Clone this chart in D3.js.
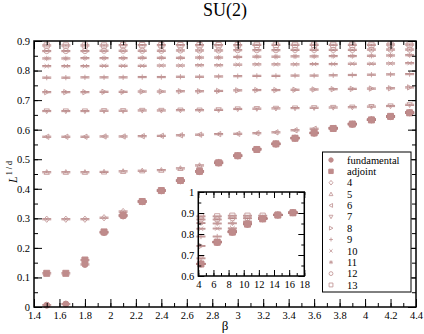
<!DOCTYPE html>
<html>
<head>
<meta charset="utf-8">
<script src="https://cdn.jsdelivr.net/npm/d3@7"></script>
<style>
  body { margin: 0; background: #fff; }
  svg { display: block; }
  text { font-family: "Liberation Serif", "Times New Roman", serif; }
</style>
</head>
<body>
<div id="chart"></div>
<script>
// ------ DATA ------

const betas = [1.5, 1.65, 1.8, 1.95, 2.1, 2.25, 2.4, 2.55, 2.7, 2.85,
               3.0, 3.15, 3.3, 3.45, 3.6, 3.75, 3.9, 4.05, 4.2, 4.35];

const fundamental = [0.006, 0.010, 0.144, 0.252, 0.308, 0.356, 0.393, 0.427, 0.458, 0.487, 0.511, 0.533, 0.551, 0.571, 0.588, 0.604, 0.618, 0.633, 0.644, 0.657];
const adjoint     = [0.114, 0.114, 0.159, 0.254, 0.311, 0.357, 0.394, 0.428, 0.459, 0.488, 0.512, 0.533, 0.552, 0.571, 0.589, 0.604, 0.619, 0.633, 0.645, 0.657];
const rep4  = [0.297, 0.297, 0.297, 0.302, 0.323, 0.358, 0.395, 0.428, 0.459, 0.488, 0.512, 0.534, 0.552, 0.572, 0.589, 0.605, 0.619, 0.634, 0.645, 0.658];
const rep5  = [0.456, 0.456, 0.456, 0.457, 0.459, 0.461, 0.463, 0.469, 0.479, 0.492, 0.513, 0.535, 0.553, 0.572, 0.589, 0.605, 0.619, 0.634, 0.645, 0.658];
const rep6  = [0.576, 0.576, 0.576, 0.577, 0.577, 0.578, 0.579, 0.581, 0.583, 0.585, 0.586, 0.588, 0.591, 0.598, 0.603, 0.606, 0.620, 0.634, 0.645, 0.658];
const rep7  = [0.663, 0.663, 0.663, 0.664, 0.664, 0.665, 0.665, 0.666, 0.666, 0.667, 0.670, 0.671, 0.672, 0.673, 0.674, 0.675, 0.676, 0.678, 0.680, 0.684];
const rep8  = [0.727, 0.727, 0.727, 0.728, 0.728, 0.729, 0.729, 0.730, 0.730, 0.731, 0.733, 0.734, 0.734, 0.735, 0.736, 0.737, 0.738, 0.739, 0.740, 0.743];
const rep9  = [0.776, 0.776, 0.777, 0.777, 0.777, 0.778, 0.778, 0.779, 0.779, 0.780, 0.781, 0.782, 0.782, 0.783, 0.783, 0.784, 0.785, 0.786, 0.787, 0.788];
const rep10 = [0.815, 0.815, 0.815, 0.816, 0.816, 0.816, 0.817, 0.817, 0.818, 0.818, 0.820, 0.821, 0.821, 0.821, 0.822, 0.822, 0.823, 0.823, 0.824, 0.825];
const rep11 = [0.841, 0.841, 0.842, 0.842, 0.842, 0.843, 0.843, 0.843, 0.844, 0.844, 0.846, 0.847, 0.847, 0.848, 0.848, 0.849, 0.849, 0.850, 0.851, 0.852];
const rep12 = [0.866, 0.866, 0.866, 0.867, 0.867, 0.867, 0.867, 0.868, 0.868, 0.868, 0.869, 0.869, 0.869, 0.870, 0.870, 0.870, 0.870, 0.871, 0.871, 0.871];
const rep13 = [0.885, 0.885, 0.885, 0.885, 0.886, 0.886, 0.886, 0.886, 0.886, 0.886, 0.886, 0.887, 0.887, 0.887, 0.887, 0.887, 0.887, 0.887, 0.888, 0.888];

// inset: larger beta
const insetBetas = [4.35, 6.5, 8.5, 10.5, 12.5, 14.5, 16.5];
const insetFundamental = [0.657, 0.760, 0.808, 0.846, 0.872, 0.890, 0.901];
const insetAdjoint     = [0.657, 0.761, 0.809, 0.847, 0.872, 0.890, 0.901];
const insetRep4  = [0.658, 0.761, 0.810, 0.847, 0.873, 0.890, 0.901];
const insetRep5  = [0.658, 0.761, 0.810, 0.848, 0.873, 0.890, 0.901];
const insetRep6  = [0.658, 0.762, 0.810, 0.848, 0.873, 0.890, 0.901];
const insetRep7  = [0.684, 0.762, 0.811, 0.848, 0.873, 0.891, 0.901];
const insetRep8  = [0.743, 0.764, 0.812, 0.849, 0.874, 0.891, 0.901];
const insetRep9  = [0.788, 0.788, 0.816, 0.850, 0.874, 0.891, 0.901];
const insetRep10 = [0.825, 0.826, 0.827, 0.851, 0.875, 0.891, 0.902];
const insetRep11 = [0.852, 0.850, 0.851, 0.859, 0.875, 0.891, 0.902];
const insetRep12 = [0.869, 0.869, 0.875, 0.875, 0.877, 0.892, 0.902];
const insetRep13 = [0.884, 0.884, 0.887, 0.887, 0.887, 0.892, 0.902];

const seriesNames   = ["fundamental", "adjoint", "4", "5", "6", "7", "8", "9", "10", "11", "12", "13"];
const seriesSymbols = ["circleF", "squareF", "diamond", "triUp", "triLeft", "triDown", "triRight", "plus", "cross", "star", "circle", "square"];
const mainValues  = [fundamental, adjoint, rep4, rep5, rep6, rep7, rep8, rep9, rep10, rep11, rep12, rep13];
const insetValues = [insetFundamental, insetAdjoint, insetRep4, insetRep5, insetRep6, insetRep7, insetRep8, insetRep9, insetRep10, insetRep11, insetRep12, insetRep13];

const errBar = 0.002;   // error bars are tiny everywhere

// ------ STYLE ------
const W = 424, H = 334;
const MARK = "#c49a9a";
const FILL = "#bf8b8b";
const CAP = "#b48080";
const SERIF = '"Liberation Serif", "Times New Roman", serif';

// ------ SCALES ------
const x = d3.scaleLinear().domain([1.4, 4.4]).range([34, 416]);
const y = d3.scaleLinear().domain([0, 0.9]).range([307, 41]);
const xi = d3.scaleLinear().domain([4, 18]).range([198.3, 304.3]);
const yi = d3.scaleLinear().domain([0.6, 1.0]).range([276, 192]);

const svg = d3.select("#chart").append("svg")
  .attr("width", W).attr("height", H);

// marker glyphs, r = half size
function markerPath(sym, r) {
  switch (sym) {
    case "circle": case "circleF":
      return `M${r},0A${r},${r} 0 1,1 ${-r},0A${r},${r} 0 1,1 ${r},0Z`;
    case "square": case "squareF":
      return `M${-r},${-r}h${2*r}v${2*r}h${-2*r}Z`;
    case "diamond":
      return `M0,${-r*1.2}L${r},0L0,${r*1.2}L${-r},0Z`;
    case "triUp":
      return `M0,${-r}L${r},${r*0.8}L${-r},${r*0.8}Z`;
    case "triDown":
      return `M0,${r}L${r},${-r*0.8}L${-r},${-r*0.8}Z`;
    case "triLeft":
      return `M${-r},0L${r*0.8},${-r}L${r*0.8},${r}Z`;
    case "triRight":
      return `M${r},0L${-r*0.8},${-r}L${-r*0.8},${r}Z`;
    case "plus":
      return `M${-r},0H${r}M0,${-r}V${r}`;
    case "cross":
      return `M${-r*0.8},${-r*0.8}L${r*0.8},${r*0.8}M${-r*0.8},${r*0.8}L${r*0.8},${-r*0.8}`;
    case "star": {
      const d = r * 0.7;
      return `M${-r},0H${r}M0,${-r}V${r}M${-d},${-d}L${d},${d}M${-d},${d}L${d},${-d}`;
    }
  }
}

function drawMarker(g, sym, r) {
  const filled = sym === "circleF" || sym === "squareF";
  g.append("path")
    .attr("d", markerPath(sym, filled ? r : r * 0.88))
    .attr("fill", filled ? FILL : "none")
    .attr("stroke", filled ? FILL : MARK)
    .attr("stroke-width", filled ? 1 : 0.9);
}

// ------ AXES ------
function tickAxes(layer, xs, ys, xMajor, xMinor, yMajor, yMinor, majLen, minLen, fmtX, fmtY) {
  const [x0, x1] = xs.range(), [y0, y1] = ys.range();

  // bottom
  layer.append("g").attr("transform", `translate(0,${y0})`)
    .call(d3.axisBottom(xs).tickValues(xMinor).tickSize(-minLen).tickFormat(""));
  layer.append("g").attr("class", "lab").attr("transform", `translate(0,${y0})`)
    .call(d3.axisBottom(xs).tickValues(xMajor).tickSize(-majLen).tickPadding(5).tickFormat(fmtX));
  // top
  layer.append("g").attr("transform", `translate(0,${y1})`)
    .call(d3.axisTop(xs).tickValues(xMinor).tickSize(-minLen).tickFormat(""));
  layer.append("g").attr("transform", `translate(0,${y1})`)
    .call(d3.axisTop(xs).tickValues(xMajor).tickSize(-majLen).tickFormat(""));
  // left
  layer.append("g").attr("transform", `translate(${x0},0)`)
    .call(d3.axisLeft(ys).tickValues(yMinor).tickSize(-minLen).tickFormat(""));
  layer.append("g").attr("class", "lab").attr("transform", `translate(${x0},0)`)
    .call(d3.axisLeft(ys).tickValues(yMajor).tickSize(-majLen).tickPadding(4).tickFormat(fmtY));
  // right
  layer.append("g").attr("transform", `translate(${x1},0)`)
    .call(d3.axisRight(ys).tickValues(yMinor).tickSize(-minLen).tickFormat(""));
  layer.append("g").attr("transform", `translate(${x1},0)`)
    .call(d3.axisRight(ys).tickValues(yMajor).tickSize(-majLen).tickFormat(""));

  layer.selectAll(".domain").remove();
  layer.selectAll(".tick line").attr("stroke", "#000").attr("stroke-width", 1);
  layer.selectAll("g").attr("font-family", SERIF).attr("font-size", 10.5);
  layer.selectAll(".lab text").attr("fill", "#000");

  layer.append("rect")
    .attr("x", x0).attr("y", y1).attr("width", x1 - x0).attr("height", y0 - y1)
    .attr("fill", "none").attr("stroke", "#000").attr("stroke-width", 1.5);
}

function drawPoints(layer, xs, ys, xvals, valueSets, r) {
  d3.range(seriesNames.length).reverse().forEach(si => {
    valueSets[si].forEach((v, i) => {
      const px = xs(xvals[i]);
      // error bar with caps
      layer.append("path")
        .attr("d", `M${px - 4.5},${ys(v + errBar)}H${px + 4.5}M${px - 4.5},${ys(v - errBar)}H${px + 4.5}M${px},${ys(v + errBar)}V${ys(v - errBar)}`)
        .attr("stroke", CAP).attr("stroke-width", 0.9).attr("fill", "none");
      const g = layer.append("g").attr("transform", `translate(${px},${ys(v)})`);
      drawMarker(g, seriesSymbols[si], r);
    });
  });
}

// ------ MAIN PLOT ------
const fmt = d3.format("~g");
const pointsLayer = svg.append("g");
drawPoints(pointsLayer, x, y, betas, mainValues, 3);

const mainLayer = svg.append("g");
tickAxes(mainLayer, x, y,
  d3.range(0, 16).map(i => 1.4 + i * 0.2),
  d3.range(0, 31).map(i => 1.4 + i * 0.1),
  d3.range(0, 10).map(i => i / 10),
  d3.range(0, 19).map(i => i / 20),
  8, 4, d => fmt(+d.toFixed(2)), d => fmt(+d.toFixed(2)));

// ------ INSET ------
const insetLayer = svg.append("g");
insetLayer.append("rect")
  .attr("x", xi.range()[0]).attr("y", yi.range()[1])
  .attr("width", xi.range()[1] - xi.range()[0]).attr("height", yi.range()[0] - yi.range()[1])
  .attr("fill", "#fff");
drawPoints(insetLayer, xi, yi, insetBetas, insetValues, 3);
tickAxes(insetLayer, xi, yi,
  d3.range(4, 19, 2),
  d3.range(4, 19, 1),
  d3.range(0, 5).map(i => 0.6 + i * 0.1),
  d3.range(0, 9).map(i => 0.6 + i * 0.05),
  6, 3, d => fmt(d), d => fmt(+d.toFixed(2)));

// ------ LEGEND ------
const legend = svg.append("g");
legend.append("rect")
  .attr("x", 322.5).attr("y", 152).attr("width", 88.5).attr("height", 140)
  .attr("fill", "#fff").attr("stroke", "#000").attr("stroke-width", 1);
seriesNames.forEach((name, i) => {
  const ly = 160 + i * 11.36;
  const g = legend.append("g").attr("transform", `translate(331,${ly})`);
  drawMarker(g, seriesSymbols[i], 2.2);
  legend.append("text")
    .attr("x", 347).attr("y", ly).attr("dy", "0.35em")
    .attr("font-family", SERIF)
    .attr("font-size", 10.5).text(name);
});

// ------ TITLES ------
svg.append("text")
  .attr("x", 225).attr("y", 16).attr("text-anchor", "middle")
  .attr("font-size", 18).text("SU(2)");

svg.append("text")
  .attr("x", 225).attr("y", 330).attr("text-anchor", "middle")
  .attr("font-size", 13).text("β");

const yl = svg.append("text")
  .attr("transform", "translate(17,172) rotate(-90)")
  .attr("text-anchor", "middle");
yl.append("tspan").attr("font-size", 12).attr("font-style", "italic").text("L");
yl.append("tspan").attr("font-size", 8).attr("dy", -5).attr("dx", 1).text("1 / d");
</script>
</body>
</html>
